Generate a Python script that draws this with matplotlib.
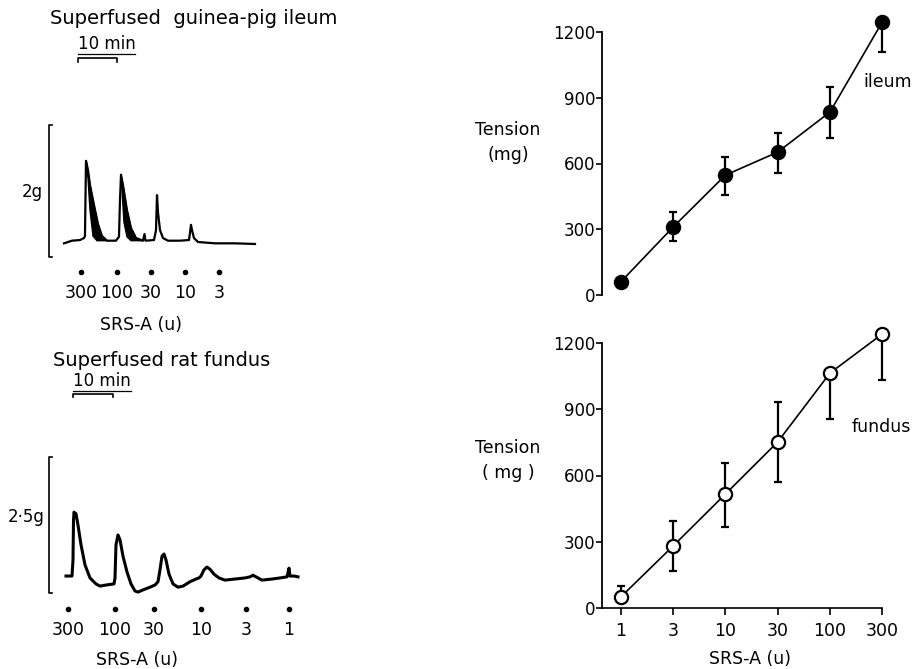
import numpy as np
import matplotlib
matplotlib.use('Agg')
import matplotlib.pyplot as plt

plt.rcParams['font.family'] = ['DejaVu Sans']

# --- dose-response data (mg tension vs SRS-A units) ---
doses = ['1', '3', '10', '30', '100', '300']
ileum_mean = [60, 310, 547, 652, 835, 1246]
ileum_err_lo = [0, 64, 91, 95, 119, 137]
ileum_err_hi = [0, 69, 83, 87, 114, 0]
fundus_mean = [50, 281, 516, 752, 1064, 1241]
fundus_err_lo = [0, 113, 149, 181, 208, 209]
fundus_err_hi = [50, 113, 141, 181, 0, 0]

# --- superfusion traces: time (min), tension (g) above baseline ---
ileum_t = [0.0, 2.05, 4.10, 5.13, 5.38, 5.64, 6.15, 6.67, 7.69, 8.72, 9.74, 11.03,
           13.33, 14.10, 14.36, 14.62, 15.13, 16.15, 17.18, 18.46, 20.26, 20.64, 20.9,
           23.08, 23.59, 23.85, 24.10, 24.62, 25.38, 26.67, 29.74, 32.05, 32.31, 32.56,
           32.82, 33.33, 34.36, 38.72, 43.85, 48.97]
ileum_g = [-0.02, 0.02, 0.03, 0.06, 0.09, 1.23, 1.09, 0.86, 0.56, 0.27, 0.09, 0.02,
           0.02, 0.08, 0.64, 1.02, 0.86, 0.48, 0.21, 0.06, 0.02, 0.12, 0.02,
           0.03, 0.18, 0.71, 0.45, 0.18, 0.06, 0.02, 0.02, 0.03, 0.14, 0.26,
           0.18, 0.06, 0.0, -0.02, -0.02, -0.03]
# inner edges of the two thick (inked) peaks
ileum_inner = [
    ([5.64, 6.15, 6.67, 7.44, 8.46, 11.03], [1.23, 0.97, 0.48, 0.09, 0.02, 0.02]),
    ([14.62, 14.87, 15.38, 16.15, 17.18, 20.26], [1.02, 0.79, 0.30, 0.08, 0.02, 0.02]),
]
ileum_dose_t = [4.4, 13.6, 22.3, 31.0, 39.7]
ileum_dose_lab = ['300', '100', '30', '10', '3']

fundus_t = [0.0, 1.5, 1.75, 1.88, 2.0, 2.5, 3.0, 3.75, 4.75, 6.0, 7.5, 8.5, 10.0,
            12.0, 12.25, 12.5, 13.0, 13.5, 14.25, 15.25, 16.25, 17.25, 18.0, 19.25,
            21.0, 22.25, 23.0, 23.5, 24.0, 24.5, 25.0, 25.75, 26.75, 28.0, 29.25,
            31.0, 32.5, 33.25, 33.75, 34.5, 35.25, 36.0, 37.0, 38.25, 39.75, 42.25,
            44.75, 46.0, 46.75, 47.5, 49.0, 51.5, 53.5, 55.25, 55.75, 56.0, 57.0, 58.0]
fundus_g = [0.165, 0.165, 0.46, 1.19, 1.34, 1.31, 1.10, 0.74, 0.37, 0.13, 0.02, -0.02, 0.0,
            0.02, 0.13, 0.74, 0.92, 0.83, 0.53, 0.24, 0.02, -0.11, -0.13, -0.09,
            -0.04, 0.0, 0.06, 0.28, 0.53, 0.57, 0.46, 0.20, 0.02, -0.04, -0.02,
            0.06, 0.11, 0.13, 0.165, 0.28, 0.33, 0.29, 0.20, 0.13, 0.09, 0.11,
            0.13, 0.15, 0.18, 0.15, 0.09, 0.11, 0.13, 0.15, 0.31, 0.165, 0.165, 0.15]
fundus_dose_t = [0.5, 12.25, 22.0, 33.75, 45.0, 55.75]
fundus_dose_lab = ['300', '100', '30', '10', '3', '1']

W, H = 919, 669
fig = plt.figure(figsize=(W / 100, H / 100), dpi=100)


def px_axes(x0, y0, x1, y1):
    # axes from pixel box (top-left origin)
    return fig.add_axes([x0 / W, 1 - y1 / H, (x1 - x0) / W, (y1 - y0) / H])


def trace_panel(ax, title, t, g, dose_t, dose_lab, bar_t, bar_g, bar_lab, bar_lab_pos,
                min_t, min_g, title_pos, lab_g, dot_g, srs_pos, lw):
    ax.plot(t, g, color='black', lw=lw, solid_joinstyle='round')
    # 10 min bracket + underlined label
    ax.plot([min_t, min_t, min_t + 10, min_t + 10],
            [min_g - 0.06, min_g, min_g, min_g - 0.06], color='black', lw=1.2)
    ax.text(min_t, min_g + 0.07, '10 min', fontsize=12, ha='left', va='bottom')
    ax.plot([min_t, min_t + 14.5], [min_g + 0.06, min_g + 0.06], color='black', lw=0.9)
    # vertical calibration bar
    ax.plot([bar_t + 0.8, bar_t, bar_t, bar_t + 0.8],
            [bar_g[0], bar_g[0], bar_g[1], bar_g[1]], color='black', lw=1.2)
    ax.text(bar_lab_pos[0], bar_lab_pos[1], bar_lab, fontsize=12, ha='right', va='center')
    ax.plot(dose_t, [dot_g] * len(dose_t), 'o', color='black', ms=3)
    for tt, lab in zip(dose_t, dose_lab):
        ax.text(tt, lab_g, lab, fontsize=12.5, ha='center', va='center')
    ax.text(title_pos[0], title_pos[1], title, fontsize=14, ha='left', va='center')
    ax.text(srs_pos[0], srs_pos[1], 'SRS-A (u)', fontsize=12.5, ha='center', va='center')
    ax.axis('off')


# top-left: guinea-pig ileum trace
ax1 = px_axes(0, 0, 360, 335)
ax1.set_xlim(-16.41, 75.90)
ax1.set_ylim(-1.409, 3.667)
for it, ig in ileum_inner:
    it = np.array(it)
    ot = np.array(ileum_t)
    og = np.array(ileum_g)
    m = (ot >= it.min()) & (ot <= it.max())
    ax1.fill(np.r_[ot[m], it[::-1]], np.r_[og[m], np.array(ig)[::-1]],
             color='black', lw=1)
trace_panel(ax1, 'Superfused  guinea-pig ileum', ileum_t, ileum_g, ileum_dose_t,
            ileum_dose_lab, -3.85, (-0.227, 1.773), '2g', (-5.4, 0.76), 3.6, 2.79,
            (-3.6, 3.38), -0.773, -0.455, (19.7, -1.26), 1.6)

# bottom-left: rat fundus trace
ax2 = px_axes(0, 335, 360, 669)
ax2.set_xlim(-16.5, 73.5)
ax2.set_ylim(-1.544, 4.596)
trace_panel(ax2, 'Superfused rat fundus', fundus_t, fundus_g, fundus_dose_t,
            fundus_dose_lab, -4.25, (-0.147, 2.353), '2·5g', (-5.25, 1.25), 1.75, 3.51,
            (-3.25, 4.136), -0.827, -0.441, (17.75, -1.379), 2.2)

# right: dose-response curves
x = np.arange(len(doses))


def dr_panel(ax, mean, lo, hi, filled, label, label_xy, tens_lab, tens_y):
    ax.errorbar(x, mean, yerr=[lo, hi], fmt='none', ecolor='black', elinewidth=1.6,
                capsize=3, capthick=1.6, clip_on=False)
    ax.plot(x, mean, '-', color='black', lw=1.2, clip_on=False)
    ax.plot(x, mean, 'o', ms=9.5, mec='black', mew=1.6,
            mfc='black' if filled else 'white', clip_on=False, zorder=5)
    ax.set_xlim(-0.36, 5.3)
    ax.set_ylim(0, 1200)
    ax.set_yticks([0, 300, 600, 900, 1200])
    ax.tick_params(axis='y', direction='out', length=4, width=1.2, pad=1, labelsize=12)
    for s in ['top', 'right']:
        ax.spines[s].set_visible(False)
    ax.spines['left'].set_linewidth(1.3)
    ax.text(label_xy[0], label_xy[1], label, fontsize=12.5, ha='center', va='center')
    ax.text(-0.318, tens_y, tens_lab, fontsize=12.5, ha='center', va='center',
            transform=ax.transAxes, linespacing=1.5)


ax3 = px_axes(602, 32, 898, 295)
dr_panel(ax3, ileum_mean, ileum_err_lo, ileum_err_hi, True, 'ileum', (5.1, 972),
         'Tension\n(mg)', 0.58)
ax3.spines['bottom'].set_visible(False)
ax3.set_xticks([])

ax4 = px_axes(602, 343, 898, 608)
dr_panel(ax4, fundus_mean, fundus_err_lo, fundus_err_hi, False, 'fundus', (4.98, 820),
         'Tension\n( mg )', 0.555)
ax4.spines['bottom'].set_bounds(-0.36, 5)
ax4.spines['bottom'].set_linewidth(1.2)
ax4.set_xticks(x)
ax4.set_xticklabels(doses)
ax4.tick_params(axis='x', direction='out', length=5, width=1.2, pad=5, labelsize=12.5)
ax4.set_xlabel('SRS-A (u)', fontsize=12.5, labelpad=7)

fig.savefig('out.png', dpi=100)
